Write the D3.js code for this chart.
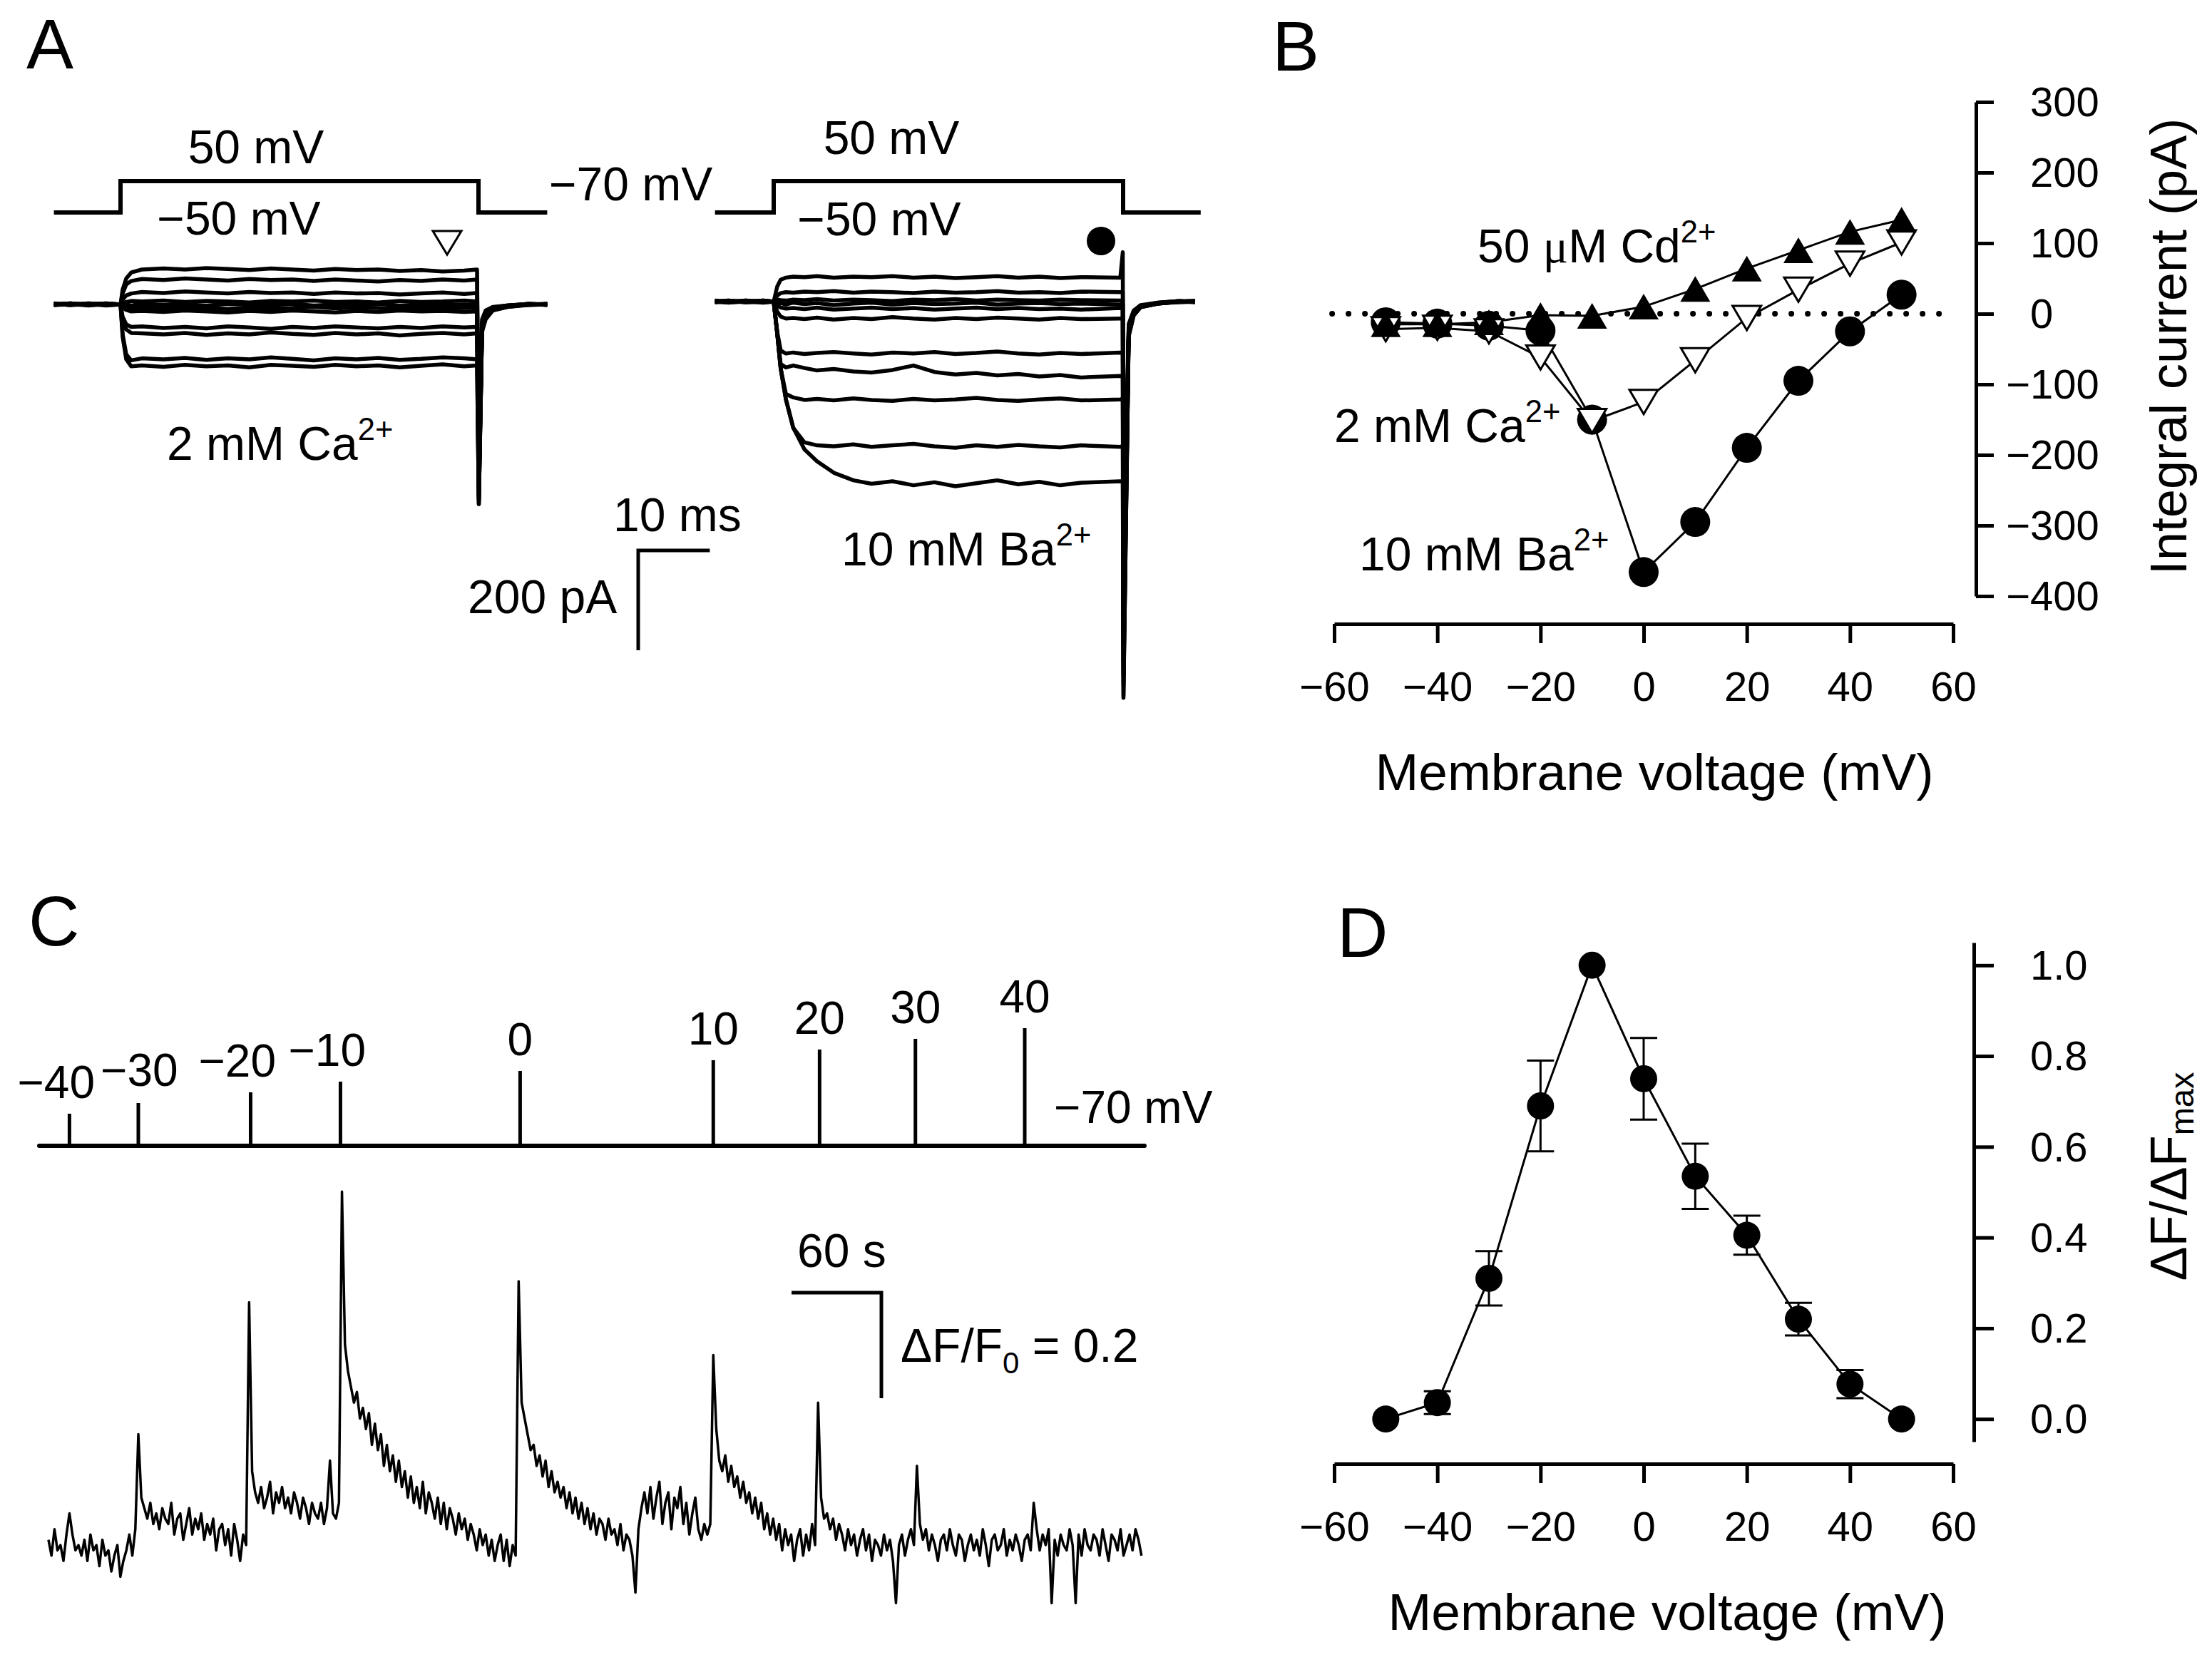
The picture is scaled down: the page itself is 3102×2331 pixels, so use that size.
<!DOCTYPE html>
<html><head><meta charset="utf-8">
<script src="https://cdn.jsdelivr.net/npm/d3@7"></script>
<style>
body{margin:0;background:#fff}
svg{display:block;background:#fff}
text{font-family:"Liberation Sans", Arial, Helvetica, sans-serif; fill:#000}
</style>
</head><body>
<svg id="fig" width="3102" height="2331"></svg>
<script>
// ===================== DATA =====================
// Panel A – whole-cell currents (pA) vs time (ms); pulse from 0 to 50 ms
const caTime = [-9.3,-7,-4.5,-2,0,0.3,0.8,1.5,3,6,9,12,15,18,21,24,27,30,33,36,39,42,45,48,49.8,50.05,50.5,51,52,54,57,59.6];
const caTraces = [
 [0,2,-1,1,0,30,52,64,70,72,70,73,71,69,72,70,68,71,69,70,67,69,66,68,70,-300,-30,-12,-5,-2,1,0],
 [1,-1,2,0,0,22,40,47,51,49,52,50,48,51,49,50,47,50,48,46,49,47,50,48,50,-330,-35,-15,-6,-2,0,1],
 [-1,1,0,2,0,10,18,22,25,23,26,24,22,25,23,24,21,24,22,23,20,22,24,21,23,-350,-38,-18,-7,-3,1,-1],
 [0,1,-2,1,0,3,5,7,6,8,5,7,6,4,7,6,8,5,6,4,7,5,6,8,6,-360,-40,-20,-8,-3,0,1],
 [2,0,1,-1,0,-1,0,-2,1,-1,0,-2,1,0,-1,1,-2,0,-1,1,-2,0,-1,0,-1,-370,-42,-20,-8,-2,1,0],
 [-1,2,0,1,0,-3,-6,-7,-6,-8,-6,-7,-9,-6,-8,-7,-5,-8,-6,-7,-9,-6,-8,-7,-7,-380,-44,-22,-9,-4,0,1],
 [1,-1,2,0,0,-6,-11,-14,-13,-15,-12,-14,-16,-13,-15,-12,-14,-16,-13,-15,-12,-14,-13,-15,-14,-385,-45,-22,-9,-3,-1,0],
 [0,2,-1,1,0,-25,-40,-45,-44,-47,-45,-48,-44,-46,-49,-45,-47,-44,-46,-48,-45,-47,-44,-46,-45,-390,-48,-25,-10,-4,0,-1],
 [-1,0,1,-2,0,-30,-50,-57,-58,-60,-57,-61,-58,-60,-56,-59,-61,-57,-60,-58,-62,-59,-57,-60,-58,-395,-50,-26,-11,-4,1,0],
 [1,-1,0,2,0,-60,-100,-112,-108,-110,-107,-111,-108,-110,-106,-109,-112,-108,-110,-107,-111,-109,-106,-108,-110,-400,-52,-28,-12,-5,0,1],
 [0,1,-1,0,0,-65,-110,-124,-122,-125,-121,-124,-122,-126,-121,-123,-125,-121,-124,-122,-126,-123,-120,-124,-122,-400,-55,-30,-12,-5,-1,0]
];
const baTime = [-8.4,-6.5,-4,-1.5,0,0.5,1,1.75,2.8,4.4,6.2,8.6,11.4,14,17,20,23,26,29,32,35,38,41,44,49.6,49.95,50.05,50.8,51.5,52.5,55,58,60.3];
const baTraces = [
 [0,2,-1,1,0,30,44,48,50,49,51,48,50,49,51,48,50,47,49,51,48,50,47,49,48,99,-500,-45,-18,-7,-2,1,0],
 [1,-1,2,0,0,12,17,19,18,20,19,21,18,20,19,17,20,18,19,21,18,19,17,20,19,20,-560,-50,-20,-8,-3,0,1],
 [-1,1,0,2,0,4,3,2,4,3,5,2,4,3,1,4,3,5,2,4,3,2,4,3,2,3,-600,-52,-22,-8,-2,1,-1],
 [0,-2,1,-1,0,-5,-3,-6,-2,-5,-3,-7,-4,-2,-6,-3,-5,-4,-2,-6,-4,-3,-5,-4,-6,-4,-640,-55,-22,-9,-3,0,1],
 [2,0,-1,1,0,-8,-12,-14,-13,-15,-12,-16,-14,-12,-15,-13,-16,-14,-12,-15,-13,-15,-14,-16,-13,-14,-680,-58,-24,-9,-3,-1,0],
 [-1,1,0,-2,0,-20,-30,-34,-33,-35,-32,-36,-33,-35,-31,-34,-36,-33,-35,-32,-34,-36,-33,-35,-34,-34,-700,-60,-25,-10,-4,0,1],
 [0,2,-1,0,0,-60,-98,-104,-102,-105,-103,-101,-104,-106,-102,-104,-101,-105,-103,-100,-104,-106,-103,-105,-102,-104,-730,-62,-26,-10,-3,1,0],
 [1,-1,0,2,0,-63,-125,-132,-128,-133,-138,-135,-140,-142,-137,-128,-141,-146,-143,-148,-145,-150,-147,-152,-149,-151,-750,-64,-26,-10,-4,0,1],
 [0,1,-1,0,0,-63,-134,-185,-192,-197,-195,-198,-194,-197,-199,-195,-198,-196,-193,-197,-199,-196,-194,-198,-196,-195,-770,-66,-27,-11,-4,-1,0],
 [-1,0,2,-1,0,-63,-134,-196,-253,-282,-288,-290,-286,-291,-288,-285,-290,-293,-288,-291,-287,-290,-292,-288,-291,-289,-790,-68,-28,-11,-3,0,1],
 [1,-1,0,1,0,-63,-134,-196,-253,-296,-320,-343,-358,-365,-360,-368,-362,-370,-364,-358,-366,-361,-368,-363,-360,-362,-794,-70,-28,-11,-4,0,-1]
];
// Voltage protocol (mV) for panel A
const protoCaTime = [-9.3,0,0,50,50,59.6];
const protoBaTime = [-8.4,0,0,50,50,61.1];
const protoVoltage = [-70,-70,50,50,-70,-70];

// Panel B – integral current (pA) vs membrane voltage (mV)
const ivVoltage = [-50,-40,-30,-20,-10,0,10,20,30,40,50];
const ivBa = [-12,-14,-17,-24,-150,-366,-295,-190,-95,-25,27];
const ivCa = [-22,-20,-25,-62,-152,-125,-66,-6,34,71,101];
const ivCd = [-15,-15,-12,-2,-3,10,35,64,90,116,133];
const bXTicks = [-60,-40,-20,0,20,40,60];
const bYTicks = [-400,-300,-200,-100,0,100,200,300];

// Panel C – stimulation protocol and fluorescence trace
const stimTimes = [14,60,135,195,315,444,515,579,652];      // s
const stimVoltages = [-40,-30,-20,-10,0,10,20,30,40];        // mV
const dffStep = 2;                                            // s per sample
// dF/F0 in hundredths, one value every 2 s from t = 0
const dffHundredths = [
 1,-2,3,-1,0,-3,2,6,2,-1,
 0,-2,1,-3,2,-1,0,-4,1,-2,
 -1,-5,-2,0,-6,-3,-1,2,-2,3,
 21,9,7,5,8,4,6,3,7,5,
 4,8,2,5,6,1,4,7,2,5,
 3,6,1,4,2,5,-1,3,4,0,
 3,-2,4,1,-3,2,0,46,14,10,
 8,11,7,9,12,6,10,8,11,7,
 9,6,10,8,5,9,7,4,8,6,
 5,8,4,7,16,6,5,8,67,38,
 33,30,27,29,24,26,22,25,19,23,
 18,21,15,19,14,17,12,16,11,14,
 9,13,8,11,7,12,6,10,8,5,
 9,4,8,3,7,5,2,6,3,5,
 1,4,2,-1,3,0,2,-2,1,-3,
 0,2,-3,1,-4,0,-2,50,27,24,
 21,18,19,15,17,13,16,11,14,10,
 12,9,11,7,10,6,9,5,8,4,
 7,3,6,2,5,4,1,5,2,3,
 0,4,-1,2,1,-2,-9,3,7,10,
 6,11,5,9,12,4,8,10,3,9,
 7,11,4,8,2,6,9,3,1,4,
 2,4,36,22,16,14,17,12,15,11,
 13,9,12,8,10,6,9,5,8,3,
 6,2,5,1,4,-1,3,0,2,-3,
 1,3,-2,2,-1,4,0,27,9,5,
 6,3,5,1,4,2,-1,3,0,2,
 -2,1,3,-1,2,-3,1,0,-2,2,
 -1,1,-3,-11,0,2,-2,1,3,0,
 15,4,1,3,-1,2,0,-3,1,2,
 -1,3,0,-2,2,1,-3,0,2,-1,
 1,-2,3,0,-4,1,2,-1,0,3,
 -2,1,-1,2,0,-3,1,2,-1,8,
 3,-1,2,0,3,-11,1,-2,2,0,
 -1,3,0,-11,2,-2,3,0,-1,2,
 1,-2,3,0,-3,2,1,-1,3,-2,
 0,2,-1,3,1,-2
];

// Panel D – normalized fluorescence vs voltage
const dVoltage = [-50,-40,-30,-20,-10,0,10,20,30,40,50];
const dMean = [0,0.036,0.31,0.69,1.0,0.75,0.535,0.405,0.22,0.077,0];
const dErr  = [0,0.025,0.06,0.10,0,0.09,0.072,0.043,0.036,0.031,0];
const dYTicks = [0,0.2,0.4,0.6,0.8,1.0];

// ===================== DRAWING =====================
const svg = d3.select("#fig");
const BLK = "#000";

function label(x, y, parts, size, anchor) {
  const t = svg.append("text").attr("x", x).attr("y", y)
    .attr("font-size", size).attr("text-anchor", anchor || "start");
  parts.forEach(p => {
    const s = t.append("tspan").text(p.t);
    if (p.sup) s.attr("font-size", size * 0.66).attr("dy", -size * 0.42);
    if (p.serif) s.attr("font-family", '"Liberation Serif", "DejaVu Serif", serif');
  });
  return t;
}
function ion(x, y, main, sup) {
  return label(x, y, [{t: main}, {t: sup, sup: true}], 66);
}

// Panel letters
label(37, 96, [{t:"A"}], 99);
label(1784, 99, [{t:"B"}], 99);
label(40, 1326, [{t:"C"}], 99);
label(1875, 1342, [{t:"D"}], 99);

// ---------- Panel A ----------
const xCa = d3.scaleLinear().domain([0, 50]).range([169, 671]);
const yCa = d3.scaleLinear().domain([0, 200]).range([427, 287]);
const xBa = d3.scaleLinear().domain([0, 50]).range([1085, 1575]);
const yBa = d3.scaleLinear().domain([0, 200]).range([423, 283]);
const yProto = d3.scaleLinear().domain([-70, 50]).range([298, 254]);

const protoLine = (xs) => d3.line().x((d) => xs(d[0])).y((d) => yProto(d[1]));
svg.append("path").attr("d", protoLine(xCa)(protoCaTime.map((t, i) => [t, protoVoltage[i]])))
  .attr("fill", "none").attr("stroke", BLK).attr("stroke-width", 6);
svg.append("path").attr("d", protoLine(xBa)(protoBaTime.map((t, i) => [t, protoVoltage[i]])))
  .attr("fill", "none").attr("stroke", BLK).attr("stroke-width", 6);

const gCa = svg.append("g");
const lineCa = d3.line().x(d => xCa(d[0])).y(d => yCa(d[1]));
caTraces.forEach(tr => {
  gCa.append("path").attr("d", lineCa(caTime.map((t, i) => [t, tr[i]])))
    .attr("fill", "none").attr("stroke", BLK).attr("stroke-width", 5.5).attr("stroke-linejoin", "round");
});
const gBa = svg.append("g");
const lineBa = d3.line().x(d => xBa(d[0])).y(d => yBa(d[1]));
baTraces.forEach(tr => {
  gBa.append("path").attr("d", lineBa(baTime.map((t, i) => [t, tr[i]])))
    .attr("fill", "none").attr("stroke", BLK).attr("stroke-width", 5.5).attr("stroke-linejoin", "round");
});

label(359, 229, [{t:"50 mV"}], 66, "middle");
label(335, 329, [{t:"\u221250 mV"}], 66, "middle");
label(1250, 216, [{t:"50 mV"}], 66, "middle");
label(1233, 330, [{t:"\u221250 mV"}], 66, "middle");
label(770, 281, [{t:"\u221270 mV"}], 66);
ion(234, 645, "2 mM Ca", "2+");
ion(1180, 793, "10 mM Ba", "2+");

// open triangle marker and filled circle marker
svg.append("path").attr("d", "M607,324 L647,324 L627,357 Z")
  .attr("fill", "#fff").attr("stroke", BLK).attr("stroke-width", 3);
svg.append("circle").attr("cx", 1544).attr("cy", 338).attr("r", 20).attr("fill", BLK);

// scale bar: 10 ms / 200 pA
const sbX = 895, sbY = 772;
svg.append("path")
  .attr("d", `M${sbX + (xCa(10) - xCa(0))},${sbY} H${sbX} V${sbY + (yCa(0) - yCa(200))}`)
  .attr("fill", "none").attr("stroke", BLK).attr("stroke-width", 5);
label(860, 745, [{t:"10 ms"}], 66);
label(656, 860, [{t:"200 pA"}], 66);

// ---------- Panel B ----------
const xB = d3.scaleLinear().domain([-60, 60]).range([1871, 2739]);
const yB = d3.scaleLinear().domain([-400, 300]).range([836, 143]);

function styleAxis(g) {
  g.select(".domain").attr("stroke", BLK).attr("stroke-width", 5);
  g.selectAll(".tick line").attr("stroke", BLK).attr("stroke-width", 5);
}
const gBx = svg.append("g").attr("transform", "translate(0,875)")
  .call(d3.axisBottom(xB).tickValues(bXTicks).tickSize(27).tickSizeOuter(0).tickPadding(40));
gBx.selectAll("text").attr("font-size", 58).attr("font-family", null);
styleAxis(gBx);
const gBy = svg.append("g").attr("transform", "translate(2771,0)")
  .call(d3.axisRight(yB).tickValues(bYTicks).tickSize(25).tickSizeOuter(0).tickFormat(""));
styleAxis(gBy);
bYTicks.forEach(v => {
  svg.append("text").attr("x", v < 0 ? 2847 - 0.584 * 58 : 2847).attr("y", yB(v)).attr("dy", "0.35em")
    .attr("font-size", 58).text(v < 0 ? "\u2212" + Math.abs(v) : String(v));
});
label(2320, 1108, [{t:"Membrane voltage (mV)"}], 73, "middle");
svg.append("text").attr("transform", "translate(3066,486) rotate(-90)")
  .attr("text-anchor", "middle").attr("font-size", 72).text("Integral current (pA)");

// dotted zero line
svg.append("line").attr("x1", xB(-60.4)).attr("x2", xB(59.6)).attr("y1", yB(0)).attr("y2", yB(0))
  .attr("stroke", BLK).attr("stroke-width", 8).attr("stroke-linecap", "round").attr("stroke-dasharray", "0,23");

const lineB = d3.line().x(d => xB(d[0])).y(d => yB(d[1]));
[ivBa, ivCa, ivCd].forEach(s => {
  svg.append("path").attr("d", lineB(ivVoltage.map((v, i) => [v, s[i]])))
    .attr("fill", "none").attr("stroke", BLK).attr("stroke-width", 3);
});
ivVoltage.forEach((v, i) => {
  svg.append("circle").attr("cx", xB(v)).attr("cy", yB(ivBa[i])).attr("r", 21).attr("fill", BLK);
});
ivVoltage.forEach((v, i) => {
  const cx = xB(v), cy = yB(ivCa[i]);
  svg.append("path").attr("d", `M${cx-20},${cy-17} L${cx+20},${cy-17} L${cx},${cy+17} Z`)
    .attr("fill", "#fff").attr("stroke", BLK).attr("stroke-width", 3);
});
ivVoltage.forEach((v, i) => {
  const cx = xB(v), cy = yB(ivCd[i]);
  svg.append("path").attr("d", `M${cx},${cy-18} L${cx+21},${cy+18} L${cx-21},${cy+18} Z`).attr("fill", BLK);
});
label(2072, 368, [{t:"50 "}, {t:"\u03BC", serif:true}, {t:"M Cd"}, {t:"2+", sup:true}], 66);
ion(1871, 620, "2 mM Ca", "2+");
ion(1906, 800, "10 mM Ba", "2+");

// ---------- Panel C ----------
const xC = d3.scaleLinear().domain([0, 732]).range([68, 1605]);
const yStim = d3.scaleLinear().domain([-70, 40]).range([1607, 1442]);
const yC = d3.scaleLinear().domain([0, 0.2]).range([2167, 2019]);
const stimLabelNudge = {"-30": [20, -2]};   // layout tweak to avoid overlap

svg.append("line").attr("x1", 55).attr("x2", 1605).attr("y1", yStim(-70)).attr("y2", yStim(-70))
  .attr("stroke", BLK).attr("stroke-width", 6).attr("stroke-linecap", "round");
stimTimes.forEach((t, i) => {
  const x = xC(t), v = stimVoltages[i];
  svg.append("line").attr("x1", x).attr("x2", x).attr("y1", yStim(-70)).attr("y2", yStim(v))
    .attr("stroke", BLK).attr("stroke-width", 5);
  const neg = v < 0;
  const nudge = stimLabelNudge[String(v)] || [0, 0];
  svg.append("text").attr("x", (neg ? x - 0.292 * 64 : x) + nudge[0]).attr("y", yStim(v) - 22 + nudge[1])
    .attr("text-anchor", "middle").attr("font-size", 64)
    .text(neg ? "\u2212" + Math.abs(v) : String(v));
});
label(1478, 1575, [{t:"\u221270 mV"}], 64);

const lineC = d3.line().x(d => xC(d[0])).y(d => yC(d[1]));
svg.append("path").attr("d", lineC(dffHundredths.map((v, i) => [i * dffStep, v / 100])))
  .attr("fill", "none").attr("stroke", BLK).attr("stroke-width", 3.5).attr("stroke-linejoin", "round");

// scale bar 60 s / dF/F0 = 0.2
const cbX = 1236, cbY = 1813;
svg.append("path")
  .attr("d", `M${cbX - (xC(60) - xC(0))},${cbY} H${cbX} V${cbY + (yC(0) - yC(0.2))}`)
  .attr("fill", "none").attr("stroke", BLK).attr("stroke-width", 5);
label(1118, 1777, [{t:"60 s"}], 66);
{
  const t = svg.append("text").attr("x", 1263).attr("y", 1910).attr("font-size", 66);
  t.append("tspan").text("\u0394F/F");
  t.append("tspan").attr("font-size", 42).attr("dy", 16).text("0");
  t.append("tspan").attr("dy", -16).text(" = 0.2");
}

// ---------- Panel D ----------
const xD = d3.scaleLinear().domain([-60, 60]).range([1871, 2739]);
const yD = d3.scaleLinear().domain([-0.05, 1.05]).range([2022, 1322]);
const gDx = svg.append("g").attr("transform", "translate(0,2053)")
  .call(d3.axisBottom(xD).tickValues(bXTicks).tickSize(27).tickSizeOuter(0).tickPadding(40));
gDx.selectAll("text").attr("font-size", 58).attr("font-family", null);
styleAxis(gDx);
const gDy = svg.append("g").attr("transform", "translate(2768,0)")
  .call(d3.axisRight(yD).tickValues(dYTicks).tickSize(28).tickSizeOuter(0).tickFormat(""));
styleAxis(gDy);
dYTicks.forEach(v => {
  svg.append("text").attr("x", 2847).attr("y", yD(v)).attr("dy", "0.35em")
    .attr("font-size", 58).text(d3.format(".1f")(v));
});
label(2338, 2286, [{t:"Membrane voltage (mV)"}], 73, "middle");
{
  const t = svg.append("text").attr("transform", "translate(3066,1650) rotate(-90)")
    .attr("text-anchor", "middle").attr("font-size", 72);
  t.append("tspan").text("\u0394F/\u0394F");
  t.append("tspan").attr("font-size", 47).attr("dy", 10).text("max");
}
const lineD = d3.line().x(d => xD(d[0])).y(d => yD(d[1]));
svg.append("path").attr("d", lineD(dVoltage.map((v, i) => [v, dMean[i]])))
  .attr("fill", "none").attr("stroke", BLK).attr("stroke-width", 3);
dVoltage.forEach((v, i) => {
  if (dErr[i] <= 0) return;
  const x = xD(v), y1 = yD(dMean[i] - dErr[i]), y2 = yD(dMean[i] + dErr[i]);
  svg.append("path").attr("d", `M${x},${y1} V${y2} M${x-19},${y1} H${x+19} M${x-19},${y2} H${x+19}`)
    .attr("fill", "none").attr("stroke", BLK).attr("stroke-width", 3);
});
dVoltage.forEach((v, i) => {
  svg.append("circle").attr("cx", xD(v)).attr("cy", yD(dMean[i])).attr("r", 19).attr("fill", BLK);
});
</script>
</body></html>
